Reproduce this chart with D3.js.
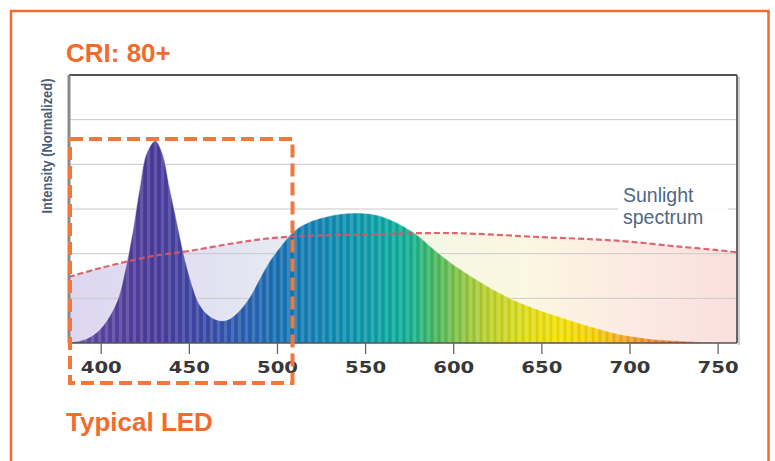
<!DOCTYPE html>
<html><head><meta charset="utf-8">
<script src="https://cdn.jsdelivr.net/npm/d3@7"></script>
<style>html,body{margin:0;padding:0;background:#fff;}svg{display:block;}</style>
</head><body>
<svg id="chart" width="775" height="461"></svg>
<script>
// ---- data ----
const xTicks = [400, 450, 500, 550, 600, 650, 700, 750];
const yGridValues = [1, 2, 3, 4, 5];
const ledNm  = [382, 390, 395, 400, 405, 410, 414, 418, 422, 426, 431, 435, 439, 443, 447, 451, 456, 462, 468, 473, 479, 485, 490, 496, 502, 507, 513, 519, 525, 536, 547, 557, 566, 578, 589, 600, 612, 623, 634, 646, 657, 672, 684, 695, 707, 718, 737, 750, 761];
const ledVal = [0.01, 0.07, 0.16, 0.33, 0.6, 1.02, 1.66, 2.46, 3.45, 4.25, 4.53, 4.25, 3.5, 2.75, 2.01, 1.41, 0.87, 0.6, 0.5, 0.54, 0.74, 1.06, 1.43, 1.84, 2.16, 2.4, 2.6, 2.72, 2.8, 2.89, 2.91, 2.86, 2.73, 2.46, 2.1, 1.76, 1.45, 1.19, 0.97, 0.78, 0.63, 0.44, 0.3, 0.19, 0.12, 0.07, 0.03, 0.01, 0.0];
const sunNm  = [382, 400, 430, 450, 475, 500, 550, 600, 650, 680, 700, 725, 750, 761];
const sunVal = [1.48, 1.68, 1.95, 2.06, 2.23, 2.36, 2.43, 2.46, 2.37, 2.32, 2.27, 2.17, 2.08, 2.03];
const specNm    = [382, 400, 430, 455, 480, 500, 520, 540, 560, 575, 590, 605, 620, 640, 660, 680, 700, 720, 750, 761];
const specColor = ["#6a5aa8", "#5a45a0", "#4d3c9b", "#3f48a6", "#2c5fb0", "#1a72b4", "#1681b4", "#0f93b0", "#0ea6a5", "#14b194", "#4ab85e", "#8ec446", "#bcd22e", "#dedc1c", "#f3e00c", "#f5cf10", "#f0a22a", "#eb7a30", "#e45f2f", "#e0582e"];
const sunFillNm    = [382, 450, 520, 580, 640, 700, 761];
const sunFillColor = ["#d9d3ee", "#dedbf0", "#e6ecf0", "#f2f5e4", "#fbf7dd", "#fbe8e0", "#fadcd8"];
const titleText = "CRI: 80+";
const footText = "Typical LED";
const yLabel = "Intensity (Normalized)";
const sunLabel = ["Sunlight", "spectrum"];

// ---- layout ----
const svg = d3.select("#chart");
const L = 69, R = 737, T = 75, B = 343;
const x = d3.scaleLinear().domain([382, 761]).range([L, R]);
const y = d3.scaleLinear().domain([0, 6]).range([B, T]);
const orange = "#F26B2C";

const defs = svg.append("defs");
const g1 = defs.append("linearGradient").attr("id", "specGrad")
  .attr("gradientUnits", "userSpaceOnUse").attr("x1", x(382)).attr("x2", x(761)).attr("y1", 0).attr("y2", 0);
specNm.forEach((n, i) => g1.append("stop").attr("offset", (x(n) - x(382)) / (x(761) - x(382))).attr("stop-color", specColor[i]));
const g2 = defs.append("linearGradient").attr("id", "sunGrad")
  .attr("gradientUnits", "userSpaceOnUse").attr("x1", x(382)).attr("x2", x(761)).attr("y1", 0).attr("y2", 0);
sunFillNm.forEach((n, i) => g2.append("stop").attr("offset", (x(n) - x(382)) / (x(761) - x(382))).attr("stop-color", sunFillColor[i]));
const pat = defs.append("pattern").attr("id", "stripes").attr("patternUnits", "userSpaceOnUse")
  .attr("width", 7).attr("height", 10);
pat.append("rect").attr("x", 0).attr("y", 0).attr("width", 3).attr("height", 10).attr("fill", "#fff").attr("opacity", 0.13);
pat.append("rect").attr("x", 4).attr("y", 0).attr("width", 2).attr("height", 10).attr("fill", "#000").attr("opacity", 0.06);

// outer frame
svg.append("rect").attr("x", 11).attr("y", 11).attr("width", 757.5).attr("height", 480)
  .attr("fill", "none").attr("stroke", orange).attr("stroke-width", 2.5);

// plot background
svg.append("rect").attr("x", L).attr("y", T).attr("width", R - L).attr("height", B - T).attr("fill", "#fff");

// sunlight fill
const sunPts = sunNm.map((n, i) => [n, sunVal[i]]);
const ledPts = ledNm.map((n, i) => [n, ledVal[i]]);
const crv = d3.curveCatmullRom.alpha(0.5);
const area = d3.area().x(d => x(d[0])).y0(y(0)).y1(d => y(d[1])).curve(crv);
const line = d3.line().x(d => x(d[0])).y(d => y(d[1])).curve(crv);
svg.append("path").datum(sunPts).attr("d", area).attr("fill", "url(#sunGrad)").attr("opacity", 0.9);

// gridlines
svg.append("g").selectAll("line").data(yGridValues).join("line")
  .attr("x1", L).attr("x2", R).attr("y1", d => y(d)).attr("y2", d => y(d))
  .attr("stroke", "#c9c9c9").attr("stroke-width", 1);

// LED spectrum
svg.append("path").datum(ledPts).attr("d", area).attr("fill", "url(#specGrad)");
svg.append("path").datum(ledPts).attr("d", area).attr("fill", "url(#stripes)");
svg.append("path").datum(ledPts).attr("d", line).attr("fill", "none").attr("stroke", "#fff").attr("stroke-opacity", 0.45).attr("stroke-width", 1.2);

// label background + sunlight label
svg.append("rect").attr("x", 618).attr("y", 182).attr("width", 110).attr("height", 48).attr("fill", "#fff").attr("opacity", 0.92);
svg.append("text").attr("x", 623).attr("y", 202).attr("font-family", "Liberation Sans, Arial, sans-serif")
  .attr("font-size", 19.5).attr("fill", "#4d6886").text(sunLabel[0]);
svg.append("text").attr("x", 623).attr("y", 224).attr("font-family", "Liberation Sans, Arial, sans-serif")
  .attr("font-size", 19.5).attr("fill", "#4d6886").text(sunLabel[1]);

// sunlight dashed line
svg.append("path").datum(sunPts).attr("d", line).attr("fill", "none")
  .attr("stroke", "#dc5560").attr("stroke-width", 2.2).attr("stroke-dasharray", "6,3").attr("opacity", 0.9);

// plot borders
svg.append("line").attr("x1", L).attr("x2", R).attr("y1", T).attr("y2", T).attr("stroke", "#555").attr("stroke-width", 2);
svg.append("line").attr("x1", L).attr("x2", L).attr("y1", T).attr("y2", B).attr("stroke", "#8a8a8a").attr("stroke-width", 3);
svg.append("line").attr("x1", R).attr("x2", R).attr("y1", T).attr("y2", B).attr("stroke", "#666").attr("stroke-width", 2);
svg.append("line").attr("x1", R + 2).attr("x2", R + 2).attr("y1", T + 2).attr("y2", B + 2).attr("stroke", "#ccc").attr("stroke-width", 2);
svg.append("line").attr("x1", L).attr("x2", R).attr("y1", B).attr("y2", B).attr("stroke", "#555").attr("stroke-width", 1.5);

// x axis
const xAxis = svg.append("g").attr("transform", `translate(0,${B})`)
  .call(d3.axisBottom(x).tickValues(xTicks).tickSize(11).tickPadding(8).tickFormat(d3.format("d")));
xAxis.select(".domain").remove();
xAxis.selectAll(".tick line").attr("stroke", "#666").attr("stroke-width", 1.3);
xAxis.selectAll(".tick text").attr("font-family", "DejaVu Sans, sans-serif").attr("font-weight", "bold")
  .attr("font-size", 16).attr("fill", "#383838").attr("dy", "0.71em")
  .attr("textLength", 41).attr("lengthAdjust", "spacingAndGlyphs");

// y label
svg.append("text").attr("transform", "translate(52,146) rotate(-90)").attr("text-anchor", "middle")
  .attr("font-family", "Liberation Sans, Arial, sans-serif").attr("font-weight", "bold").attr("font-size", 15)
  .attr("fill", "#4a5f78").attr("textLength", 135).attr("lengthAdjust", "spacingAndGlyphs").text(yLabel);

// dashed highlight box
svg.append("rect").attr("x", 70).attr("y", 139).attr("width", 222.5).attr("height", 244)
  .attr("fill", "none").attr("stroke", "#F2773A").attr("stroke-width", 4).attr("stroke-dasharray", "13,6");

// titles
svg.append("text").attr("x", 66).attr("y", 62).attr("font-family", "Liberation Sans, Arial, sans-serif")
  .attr("font-weight", "bold").attr("font-size", 26).attr("fill", orange).text(titleText);
svg.append("text").attr("x", 66).attr("y", 431).attr("font-family", "Liberation Sans, Arial, sans-serif")
  .attr("font-weight", "bold").attr("font-size", 26).attr("fill", orange).text(footText);
</script>
</body></html>
